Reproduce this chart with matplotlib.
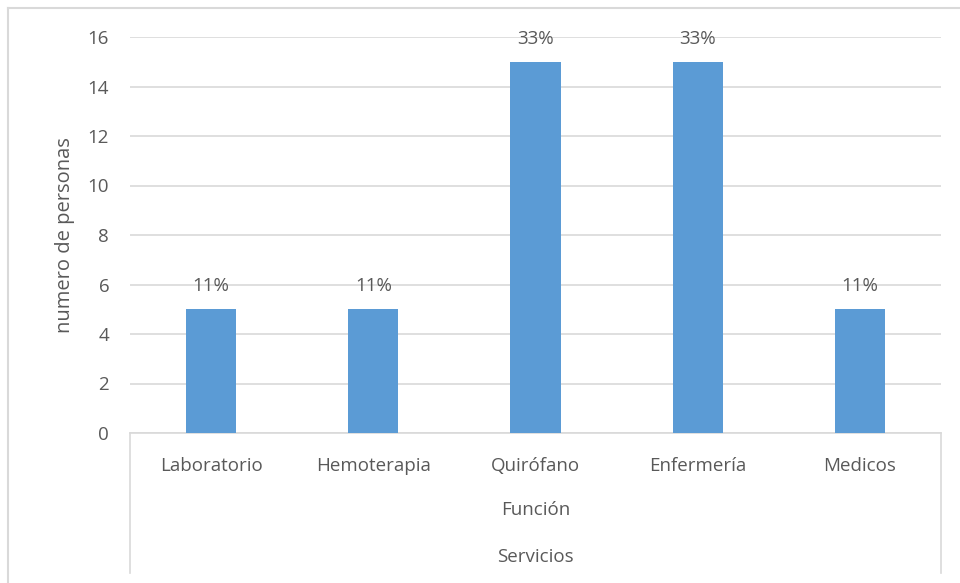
import matplotlib.pyplot as plt
from matplotlib.lines import Line2D

# Data
categorias = ["Laboratorio", "Hemoterapia", "Quirófano", "Enfermería", "Medicos"]
personas = [5, 5, 15, 15, 5]
porcentajes = ["11%", "11%", "33%", "33%", "11%"]
yticks = [0, 2, 4, 6, 8, 10, 12, 14, 16]

gris = "#595959"
plt.rcParams['font.family'] = ['Open Sans', 'DejaVu Sans']

fig = plt.figure(figsize=(9.6, 5.83), dpi=100)
W, H = 960, 583
ax = fig.add_axes([130 / W, 1 - 433 / H, (941 - 130) / W, (433 - 37) / H])

x = range(len(categorias))
ax.bar(x, personas, width=0.31, color="#5B9BD5", zorder=3)
for xi, v, p in zip(x, personas, porcentajes):
    ax.annotate(p, (xi, v), xytext=(0, 10), textcoords="offset points",
                ha="center", va="bottom", fontsize=13.5, color=gris)

ax.set_xlim(-0.5, len(categorias) - 0.5)
ax.set_ylim(0, 16)
ax.set_yticks(yticks)
ax.tick_params(axis="y", length=0, labelsize=13.5, labelcolor=gris, pad=15)
ax.set_xticks(list(x))
ax.set_xticklabels(categorias)
ax.tick_params(axis="x", length=0, labelsize=13.5, labelcolor=gris, pad=17)
ax.grid(axis="y", color="#D9D9D9", linewidth=1.2, zorder=0)
for s in ["top", "right", "left"]:
    ax.spines[s].set_visible(False)
ax.spines["bottom"].set_color("#D9D9D9")
ax.spines["bottom"].set_linewidth(1.2)

ax.set_ylabel("numero de personas", fontsize=14.5, color=gris, labelpad=9)

# multi-level category axis
ax.text(0.5, -77 / 396, "Función", transform=ax.transAxes, ha="center",
        va="center", fontsize=13.5, color=gris)
ax.text(0.5, -124 / 396, "Servicios", transform=ax.transAxes, ha="center",
        va="center", fontsize=13.5, color=gris)
for xl in [0, 1]:
    ax.add_line(Line2D([xl, xl], [0, -140 / 396], transform=ax.transAxes,
                       color="#D9D9D9", linewidth=1.2, clip_on=False))

# chart border
fig.add_artist(Line2D([8 / W, 1], [1 - 8 / H, 1 - 8 / H], color="#D9D9D9", linewidth=1.5))
fig.add_artist(Line2D([8 / W, 8 / W], [0, 1 - 8 / H], color="#D9D9D9", linewidth=1.5))

fig.savefig("out.png", dpi=100)
